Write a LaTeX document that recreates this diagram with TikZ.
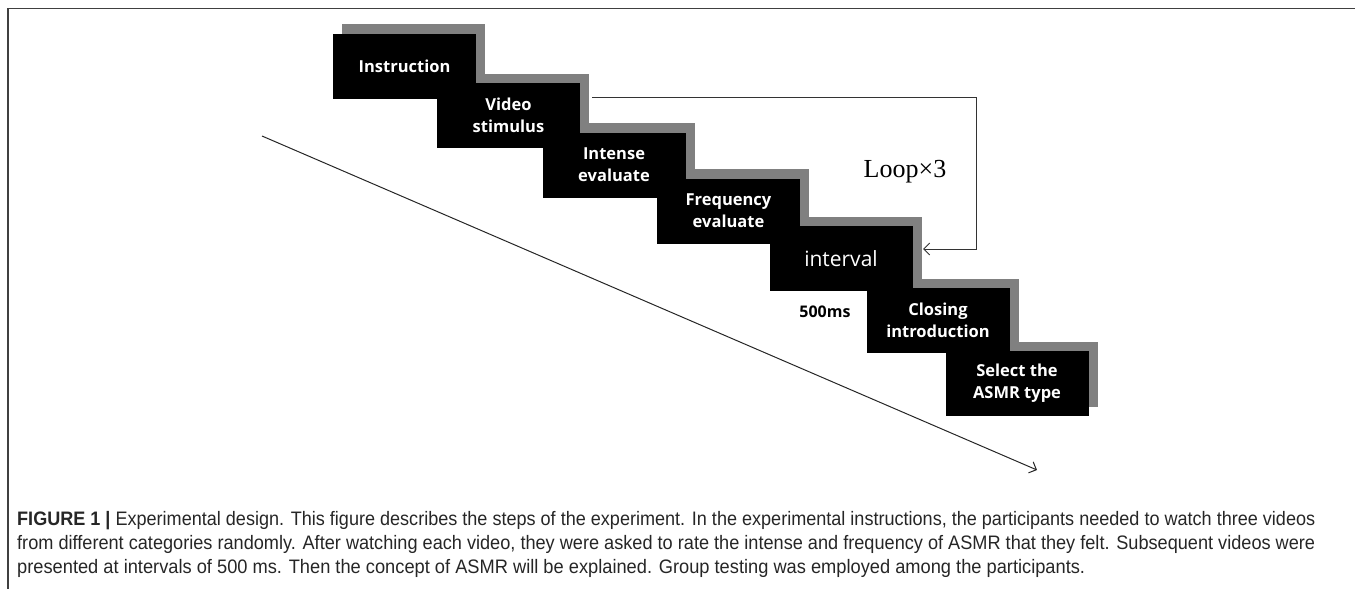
\documentclass[tikz,border=0pt]{standalone}
\usepackage{graphicx}
\usepackage{fontspec}
\setmainfont{Liberation Sans}
\newfontfamily\boxfont{Open Sans}
\newfontfamily\loopfont{Liberation Serif}
\usetikzlibrary{arrows.meta,backgrounds,calc}
\definecolor{shadowgray}{HTML}{808080}
\begin{document}
\begin{tikzpicture}[x=1pt,y=-1pt,>={Straight Barb[length=6pt,width=12pt]},
  stage/.style={fill=black,text=white,minimum width=143pt,minimum height=65pt,inner sep=0pt,
    align=center,font=\boxfont\bfseries\fontsize{16.5}{22}\selectfont},
  capline/.style={anchor=base west,inner sep=0pt,text=black!85,font=\fontsize{19.5}{24}\selectfont}]
 \useasboundingbox (0,0) rectangle (1355,589);
 \draw[line width=1.5pt, black!75] (7,8.5) -- (1355,8.5);
 \draw[line width=1.5pt, black!75] (8,8) -- (8,589);
 % steps
 \node[stage] (ins) at (404.5,66) {Instruction};
 \node[stage] (vid) at (508.5,115.5) {Video\\stimulus};
 \node[stage] (int) at (614,165) {Intense\\evaluate};
 \node[stage] (frq) at (728.5,211) {Frequency\\evaluate};
 \node[stage,font=\boxfont\fontsize{21}{24}\selectfont] (ivl) at (841,258.5) {interval};
 \node[stage] (cls) at (938,320.5) {Closing\\introduction};
 \node[stage] (sel) at (1017,383.5) {Select the\\ASMR type};
 \begin{scope}[on background layer]
  \foreach \n in {ins,vid,int,frq,ivl,cls,sel}
   \fill[shadowgray] ($(\n.south west)+(9,-9)$) rectangle ($(\n.north east)+(9,-9)$);
 \end{scope}
 \node[font=\boxfont\bfseries\fontsize{16}{20}\selectfont] (dur) at (825,312) {500ms};
 % loop
 \coordinate (loopstart) at (592,97);
 \coordinate (loopend) at (923,249);
 \draw[->, line width=1pt, black!80] (loopstart) -- (976,97) -- (976,249) -- (loopend);
 \node[font=\loopfont\fontsize{26}{26}\selectfont] (loop) at (905,172) {Loop×3};
 % time axis
 \coordinate (tstart) at (262,136);
 \coordinate (tend) at (1037,470);
 \draw[->, line width=1pt, black!85] (tstart) -- (tend);
 % caption
 \node[capline] (cap1) at (17,525) {\resizebox{1298pt}{\height}{\textbf{FIGURE 1 |} Experimental design. This figure describes the steps of the experiment. In the experimental instructions, the participants needed to watch three videos}};
 \node[capline] (cap2) at (17,549) {\resizebox{1298pt}{\height}{from different categories randomly. After watching each video, they were asked to rate the intense and frequency of ASMR that they felt. Subsequent videos were}};
 \node[capline] (cap3) at (17,573) {\resizebox{1068pt}{\height}{presented at intervals of 500 ms. Then the concept of ASMR will be explained. Group testing was employed among the participants.}};
\end{tikzpicture}
\end{document}
